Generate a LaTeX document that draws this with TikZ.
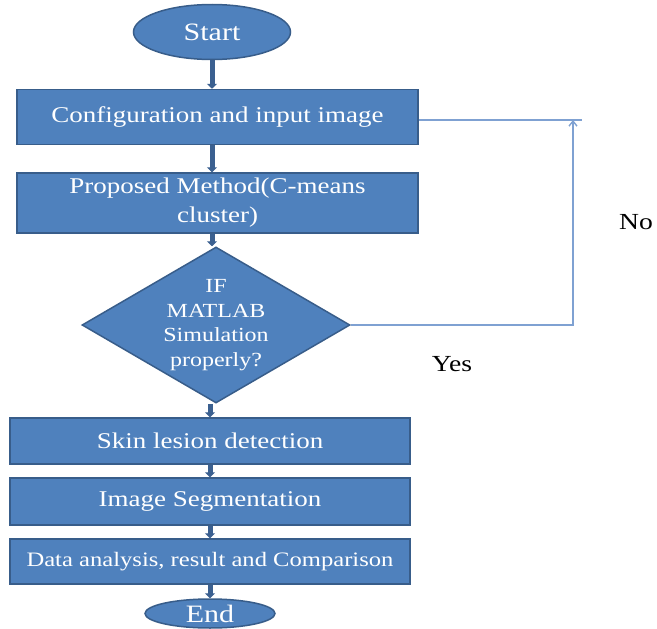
\documentclass[tikz,border=0pt]{standalone}
\usepackage{fontspec}
\setmainfont[FakeStretch=1.2]{Liberation Serif}
\usetikzlibrary{arrows.meta,shapes.geometric}
\definecolor{boxfill}{HTML}{4F81BD}
\definecolor{boxline}{HTML}{385D8A}
\definecolor{flowline}{HTML}{3B6090}
\definecolor{loopline}{HTML}{7FA1D2}

\begin{document}
\begin{tikzpicture}[x=1pt,y=1pt,>={Triangle[width=10pt,length=5pt]},
                    flow/.style={->,draw=flowline,line width=5pt},
                    loop/.style={draw=loopline,line width=1.4pt}]
  \tikzstyle{process}=[rectangle,fill=boxfill,draw=boxline,line width=1.5pt,
                       text=white,align=center,inner sep=0pt,
                       font=\fontsize{22.5}{29}\selectfont]
  \tikzstyle{terminal}=[ellipse,fill=boxfill,draw=boxline,line width=1.5pt,
                        text=white,inner sep=0pt,text height=17pt,text depth=0pt,
                        font=\fontsize{25}{30}\selectfont]
  \tikzstyle{decision}=[diamond,fill=boxfill,draw=boxline,line width=1.5pt,
                        inner sep=0pt,minimum width=268pt,minimum height=156pt]
  \tikzstyle{label}=[text=black,font=\fontsize{23}{28}\selectfont]

  \useasboundingbox (0,0) rectangle (657,-629);

  \node[terminal,minimum width=157pt,minimum height=55pt] (start) at (212,-32)    {Start};
  \node[process,minimum width=401pt,minimum height=55pt]  (conf)  at (217.5,-117) {Configuration and input image};
  \node[process,minimum width=401pt,minimum height=60pt]  (prop)  at (217.5,-203) {Proposed Method(C-means\\cluster)};
  \node[decision]                                         (dec)   at (216,-325)   {};
  \node[text=white,align=center,font=\fontsize{20}{24.5}\selectfont]
                                                          (dect)  at (dec)        {IF\\MATLAB\\Simulation\\properly?};
  \node[process,minimum width=400pt,minimum height=46pt]  (skin)  at (210,-441)   {Skin lesion detection};
  \node[process,minimum width=400pt,minimum height=47pt]  (seg)   at (210,-501.5) {Image Segmentation};
  \node[process,minimum width=400pt,minimum height=45pt,font=\fontsize{20.5}{25}\selectfont]
                                                          (data)  at (210,-561.5) {Data analysis, result and Comparison};
  \node[terminal,minimum width=130pt,minimum height=29pt] (end)   at (210,-613.5) {End};

  \node[label] (no)  at (636,-222) {No};
  \node[label] (yes) at (452,-364) {Yes};

  \coordinate (fbup)  at (573,-120);
  \coordinate (fbend) at (582,-120);

  \draw[flow] (start.south) -- (start.south |- conf.north);
  \draw[flow] (conf.south -| start) -- (start |- prop.north);
  \draw[flow] (prop.south -| start) -- (start |- dec.north);
  \draw[flow] (dec.south -| end) -- (end |- skin.north);
  \draw[flow] (skin.south -| end) -- (end |- seg.north);
  \draw[flow] (seg.south -| end) -- (end |- data.north);
  \draw[flow] (data.south -| end) -- (end.north);

  \draw[loop,-{Straight Barb[width=8pt,length=5pt]}] (dec.east) -| (fbup);
  \draw[loop] (conf.east |- fbend) -- (fbend);
\end{tikzpicture}
\end{document}
